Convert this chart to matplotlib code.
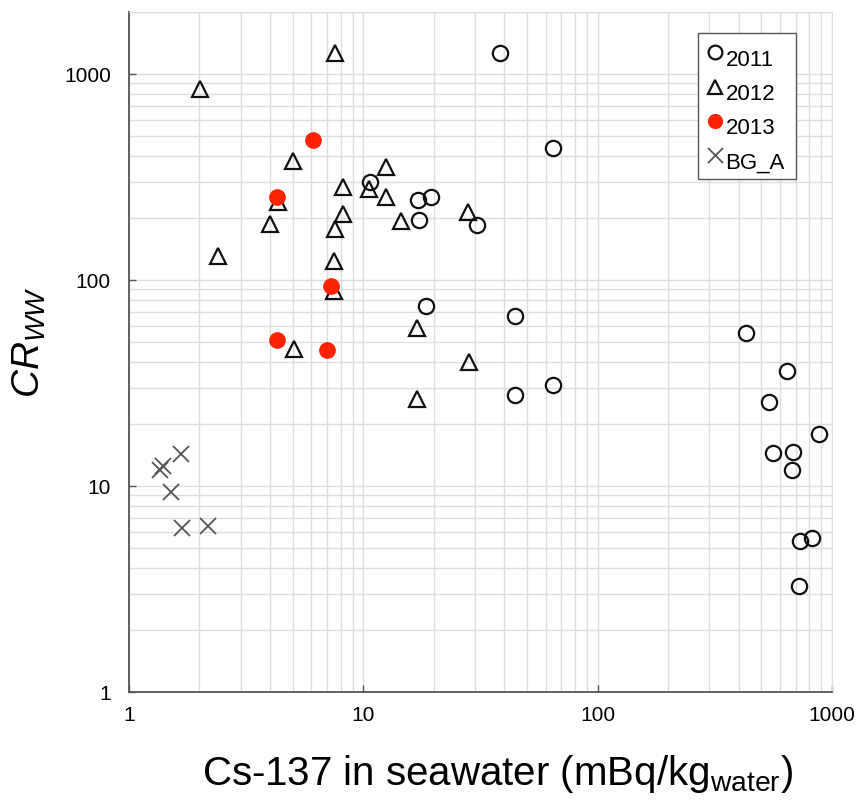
import matplotlib
matplotlib.use('Agg')
import matplotlib.pyplot as plt
from matplotlib.ticker import FixedLocator, LogLocator, NullFormatter

plt.rcParams['font.family'] = ['Liberation Sans', 'DejaVu Sans']
plt.rcParams['mathtext.fontset'] = 'custom'
plt.rcParams['mathtext.rm'] = 'Liberation Sans'
plt.rcParams['mathtext.it'] = 'Liberation Sans:italic'

# 2011 (open circles)
x2011 = [38.4, 10.7, 17.2, 19.4, 17.3, 30.6, 18.5, 44.4, 64.7, 429, 643, 44.4, 64.7,
         540, 881, 562, 680, 674, 820, 731, 724]
y2011 = [1262, 298, 244, 252, 196, 184, 75.2, 67.2, 438, 55.6, 36.0, 27.8, 30.8,
         25.5, 17.9, 14.4, 14.7, 11.9, 5.62, 5.39, 3.26]
# 2012 (open triangles)
x2012 = [7.6, 2.02, 5.03, 4.34, 4.0, 2.39, 8.2, 10.6, 12.5, 12.5, 8.2, 7.6, 14.5,
         28.1, 7.5, 7.5, 5.05, 16.9, 28.2, 16.9]
y2012 = [1270, 844, 379, 238, 188, 131, 284, 276, 354, 254, 209, 177, 193,
         215, 124, 88, 46, 58.6, 39.9, 26.5]
# 2013 (red filled)
x2013 = [6.08, 4.27, 7.26, 4.27, 6.98]
y2013 = [478, 254, 94, 51.3, 45.8]
# BG_A (crosses)
xbg = [1.67, 1.40, 1.36, 1.51, 1.69, 2.18]
ybg = [14.3, 12.5, 11.9, 9.35, 6.22, 6.40]

fig = plt.figure(figsize=(8.59, 8.0), dpi=100)
ax = fig.add_axes([0.150, 0.135, 0.8186, 0.85])

ax.plot(x2011, y2011, 'o', ms=11, mfc='none', mec='#111111', mew=1.6, label='2011', zorder=3)
ax.plot(x2012, y2012, '^', ms=11, mfc='none', mec='#111111', mew=1.6, label='2012', zorder=3)
ax.plot(x2013, y2013, 'o', ms=11, mfc='#ff2200', mec='#ff2200', label='2013', zorder=4)
ax.plot(xbg, ybg, 'x', ms=12, mec='#555555', mew=1.3, label='BG_A', zorder=3)

ax.set_xscale('log')
ax.set_yscale('log')
ax.set_xlim(1, 1000)
ax.set_ylim(1, 2000)

ax.xaxis.set_major_locator(FixedLocator([1, 10, 100, 1000]))
ax.yaxis.set_major_locator(FixedLocator([1, 10, 100, 1000]))
ax.set_xticklabels(['1', '10', '100', '1000'])
ax.set_yticklabels(['1', '10', '100', '1000'])
ax.xaxis.set_minor_locator(LogLocator(base=10, subs=range(2, 10)))
ax.yaxis.set_minor_locator(LogLocator(base=10, subs=range(2, 10)))
ax.xaxis.set_minor_formatter(NullFormatter())
ax.yaxis.set_minor_formatter(NullFormatter())
ax.tick_params(which='major', direction='in', length=5, width=1, color='#555555',
               labelsize=15, pad=10)
ax.tick_params(axis='y', which='major', pad=13)
ax.tick_params(which='minor', length=0)
ax.grid(True, which='both', color='#dddddd', lw=1)
ax.set_axisbelow(True)

for s in ['left', 'bottom']:
    ax.spines[s].set_color('#555555')
    ax.spines[s].set_linewidth(1.3)
for s in ['top', 'right']:
    ax.spines[s].set_color('#dddddd')

ax.set_xlabel('Cs-137 in seawater (mBq/kg$_{\\mathrm{water}}$)', fontsize=29)
ax.xaxis.set_label_coords(0.525, -0.09, transform=ax.transAxes)
ax.xaxis.label.set_va('top')
ax.set_ylabel('$CR_{WW}$', fontsize=28)
ax.yaxis.set_label_coords(-0.115, 0.515, transform=ax.transAxes)

leg = ax.legend(loc='upper left', bbox_to_anchor=(0.809, 0.969), fontsize=16,
                handlelength=0.55, handletextpad=0.2, labelspacing=0.6,
                borderpad=0.5, borderaxespad=0, fancybox=False, framealpha=1,
                markerscale=0.9)
leg.get_frame().set_edgecolor('#555555')
leg.get_frame().set_linewidth(1)
for t in leg.get_texts():
    t.set_va('center')

fig.savefig('out.png', dpi=100)
